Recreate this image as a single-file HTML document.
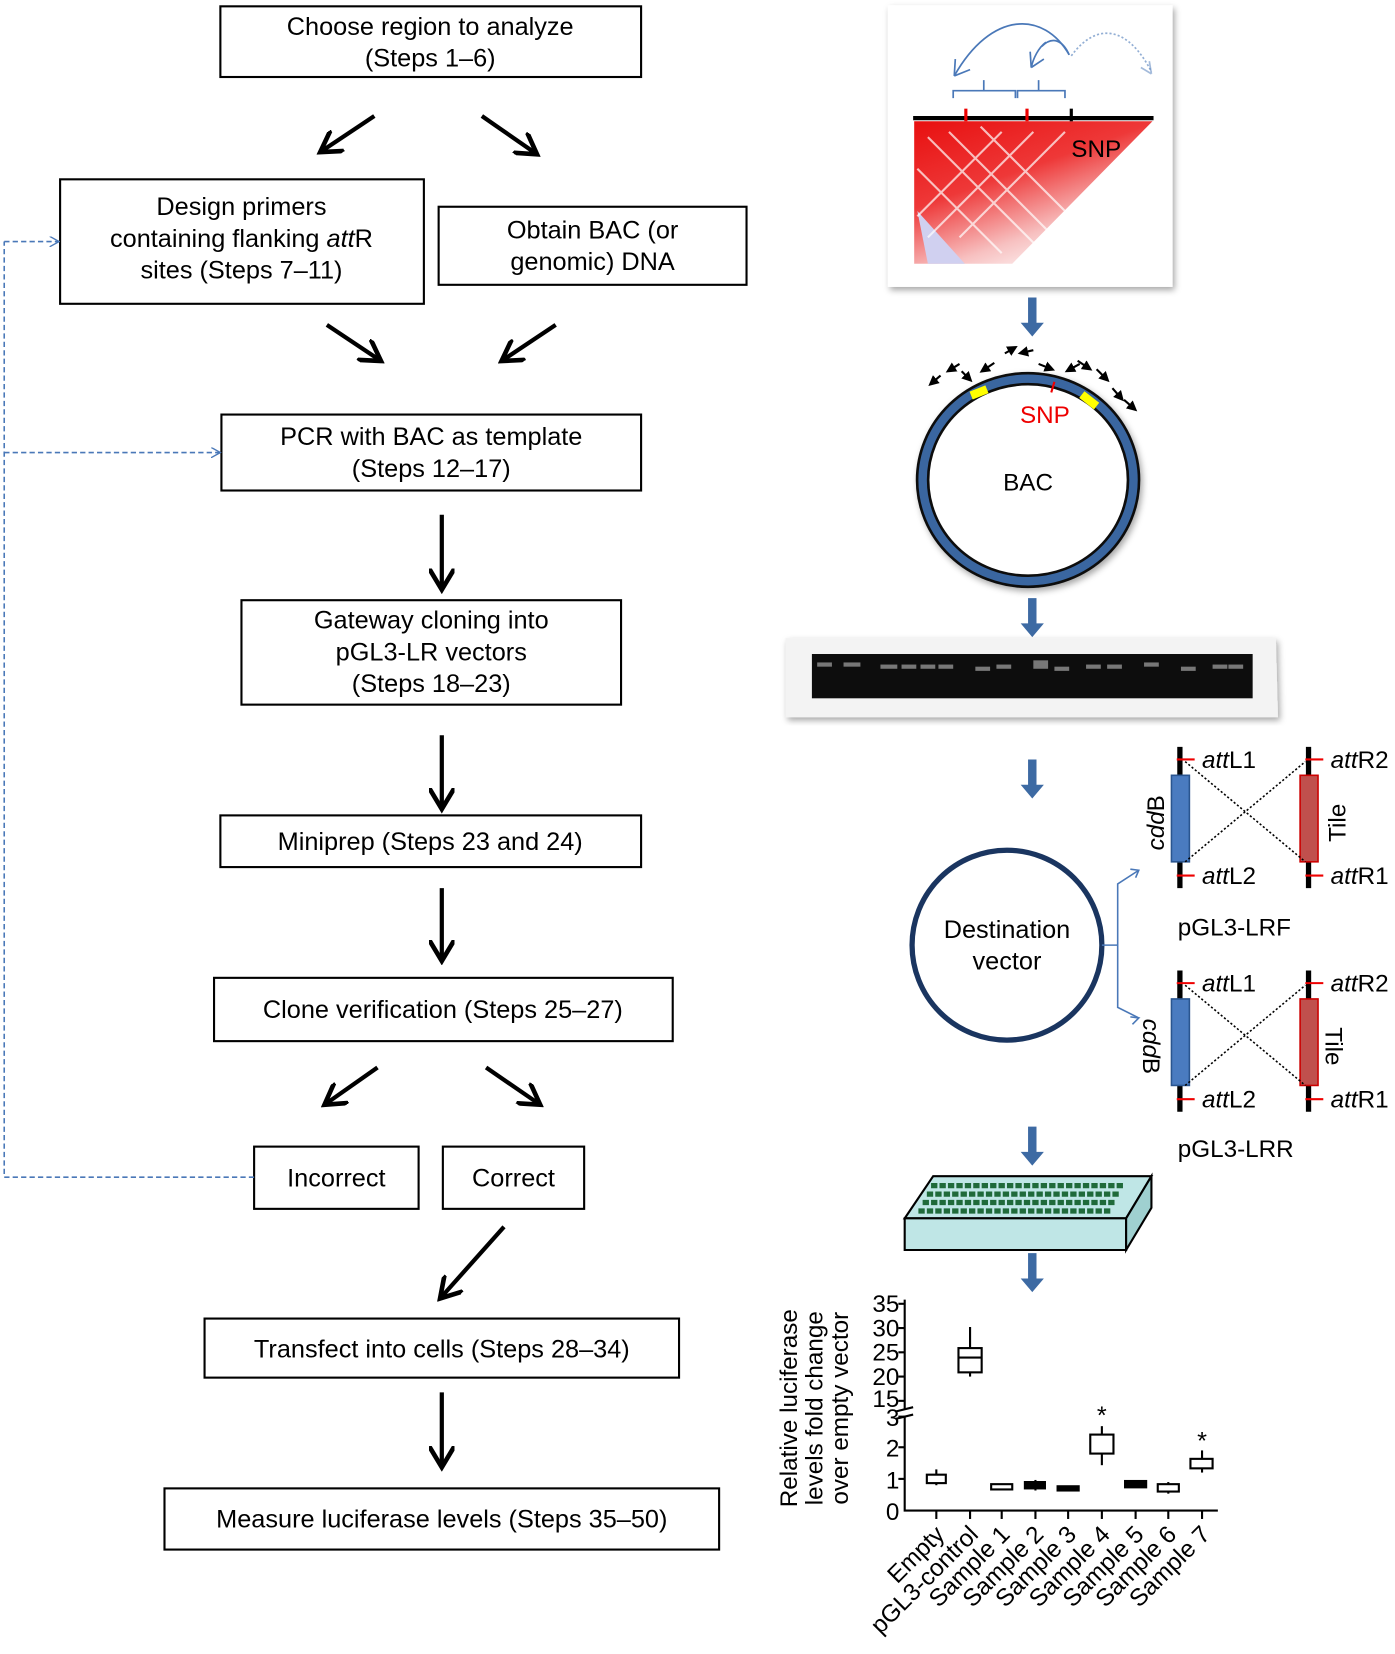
<!DOCTYPE html>
<html><head><meta charset="utf-8"><style>
html,body{margin:0;padding:0;background:#fff}
svg{display:block}
text{font-family:"Liberation Sans",Arial,sans-serif}
</style></head><body>
<svg width="1395" height="1654" viewBox="0 0 1323 1568" preserveAspectRatio="none" xmlns="http://www.w3.org/2000/svg">
<defs>
<marker id="ah" markerWidth="6" markerHeight="6" refX="4" refY="3" orient="auto" markerUnits="strokeWidth"><path d="M0,0 L5,3 L0,6" fill="none" stroke="#000" stroke-width="1.1"/></marker>
<marker id="bh" markerWidth="10" markerHeight="10" refX="9" refY="5" orient="auto" markerUnits="userSpaceOnUse"><path d="M0,0 L9,5 L0,10" fill="none" stroke="#4a78b8" stroke-width="1.3"/></marker>
<marker id="sa" markerWidth="5" markerHeight="5" refX="2" refY="2.5" orient="auto" markerUnits="strokeWidth"><path d="M0,0 L5,2.5 L0,5Z" fill="#000"/></marker>
<linearGradient id="hm" x1="0" y1="0" x2="0.6" y2="1"><stop offset="0" stop-color="#e81010"/><stop offset="0.45" stop-color="#ee3838"/><stop offset="0.8" stop-color="#f7c0c0"/><stop offset="1" stop-color="#fdf2f2"/></linearGradient>
<filter id="sh"><feDropShadow dx="2" dy="3" stdDeviation="3" flood-opacity="0.35"/></filter>
</defs>
<g font-size="24" fill="#000" text-anchor="middle">
<g fill="none" stroke="#000" stroke-width="2">
<rect x="209" y="6" width="399" height="67"/>
<rect x="57" y="170" width="345" height="118"/>
<rect x="416" y="196" width="292" height="74"/>
<rect x="210" y="393" width="398" height="72"/>
<rect x="229" y="569" width="360" height="99"/>
<rect x="209" y="773" width="399" height="49"/>
<rect x="203" y="927" width="435" height="60"/>
<rect x="241" y="1087" width="156" height="59"/>
<rect x="420" y="1087" width="134" height="59"/>
<rect x="194" y="1250" width="450" height="56"/>
<rect x="156" y="1411" width="526" height="58"/>
</g>
<text x="408" y="33">Choose region to analyze</text><text x="408" y="63">(Steps 1–6)</text>
<text x="229" y="204">Design primers</text><text x="229" y="234">containing flanking <tspan font-style="italic">att</tspan>R</text><text x="229" y="264">sites (Steps 7–11)</text>
<text x="562" y="226">Obtain BAC (or</text><text x="562" y="256">genomic) DNA</text>
<text x="409" y="422">PCR with BAC as template</text><text x="409" y="452">(Steps 12–17)</text>
<text x="409" y="596">Gateway cloning into</text><text x="409" y="626">pGL3-LR vectors</text><text x="409" y="656">(Steps 18–23)</text>
<text x="408" y="806">Miniprep (Steps 23 and 24)</text>
<text x="420" y="965">Clone verification (Steps 25–27)</text>
<text x="319" y="1125">Incorrect</text>
<text x="487" y="1125">Correct</text>
<text x="419" y="1287">Transfect into cells (Steps 28–34)</text>
<text x="419" y="1448">Measure luciferase levels (Steps 35–50)</text>
</g>
<g stroke="#000" stroke-width="4" fill="none" marker-end="url(#ah)">
<line x1="355" y1="110" x2="307" y2="142"/>
<line x1="457" y1="110" x2="506" y2="144"/>
<line x1="310" y1="308" x2="358" y2="340"/>
<line x1="527" y1="308" x2="479" y2="340"/>
<line x1="419" y1="488" x2="419" y2="555"/>
<line x1="419" y1="697" x2="419" y2="763"/>
<line x1="419" y1="842" x2="419" y2="907"/>
<line x1="358" y1="1012" x2="311" y2="1045"/>
<line x1="461" y1="1012" x2="509" y2="1045"/>
<line x1="478" y1="1163" x2="420" y2="1228"/>
<line x1="419" y1="1320" x2="419" y2="1387"/>
</g>
<g stroke="#4a78b8" stroke-width="1.5" fill="none" stroke-dasharray="5,3">
<polyline points="241,1116 4,1116 4,229"/>
<line x1="4" y1="229" x2="56" y2="229" marker-end="url(#bh)"/>
<line x1="4" y1="429" x2="209" y2="429" marker-end="url(#bh)"/>
</g>
<!-- heatmap -->
<rect x="842" y="5" width="270" height="267" fill="#fff" filter="url(#sh)"/>
<polygon points="867,115 1093,115 960,250 867,250" fill="url(#hm)"/>
<polygon points="870,200 915,250 880,250" fill="#d0d0f0"/>
<g stroke="#fff" stroke-width="2" opacity="0.7">
<line x1="880" y1="130" x2="990" y2="240"/><line x1="900" y1="125" x2="1000" y2="225"/><line x1="870" y1="160" x2="950" y2="240"/><line x1="930" y1="120" x2="1010" y2="200"/><line x1="980" y1="125" x2="880" y2="225"/><line x1="1010" y1="125" x2="910" y2="225"/><line x1="950" y1="125" x2="870" y2="205"/>
</g>
<line x1="866" y1="112" x2="1094" y2="112" stroke="#000" stroke-width="4"/>
<g stroke="#e00" stroke-width="3"><line x1="916" y1="103" x2="916" y2="115"/><line x1="974" y1="103" x2="974" y2="115"/></g>
<line x1="1016" y1="103" x2="1016" y2="115" stroke="#000" stroke-width="3"/>
<text x="1016" y="149" font-size="23">SNP</text>
<g fill="none" stroke="#4a78b8" stroke-width="1.6">
<path d="M904,93 L904,86 L933,86 L933,76 M933,86 L963,86 L963,93"/>
<path d="M965,93 L965,86 L985,86 L985,76 M985,86 L1010,86 L1010,93"/>
<path d="M1014,52 C990,10 940,10 905,72"/><path d="M905,72 l1,-16 M905,72 l15,-6"/>
<path d="M1014,52 C1008,38 998,34 988,44"/>
<path d="M992,40 C985,45 980,55 978,64"/><path d="M978,64 l-1,-15 M978,64 l12,-8"/>
<path d="M1016,53 C1040,20 1070,25 1092,68" stroke-dasharray="2,2" opacity="0.6"/><path d="M1092,70 l-2,-12 M1092,70 l-10,-6" opacity="0.5"/>
</g>
<!-- blue down arrows -->
<g fill="#3d6aa3">
<path d="M975,282 h8 v24 h7 l-11,13 l-11,-13 h7z"/>
<path d="M975,567 h8 v24 h7 l-11,13 l-11,-13 h7z"/>
<path d="M975,720 h8 v24 h7 l-11,13 l-11,-13 h7z"/>
<path d="M975,1068 h8 v24 h7 l-11,13 l-11,-13 h7z"/>
<path d="M975,1188 h8 v24 h7 l-11,13 l-11,-13 h7z"/>
</g>
<!-- BAC -->
<ellipse cx="975" cy="455" rx="100" ry="96" fill="#fff" stroke="#111" stroke-width="13" filter="url(#sh)"/>
<ellipse cx="975" cy="455" rx="100" ry="96" fill="none" stroke="#3a66a0" stroke-width="8"/>
<line x1="921" y1="375" x2="936" y2="369" stroke="#ff0" stroke-width="8"/>
<line x1="1026" y1="374" x2="1040" y2="385" stroke="#ff0" stroke-width="8"/>
<line x1="1000" y1="362" x2="997" y2="372" stroke="#e00" stroke-width="2"/>
<text x="991" y="401" font-size="23" fill="#e00" text-anchor="middle">SNP</text>
<text x="975" y="465" font-size="23" text-anchor="middle">BAC</text>
<g stroke="#000" stroke-width="2" marker-end="url(#sa)">
<line x1="892" y1="356" x2="885" y2="362"/><line x1="910" y1="345" x2="902" y2="350"/><line x1="912" y1="352" x2="918" y2="358"/>
<line x1="943" y1="344" x2="934" y2="350"/><line x1="953" y1="335" x2="960" y2="331"/><line x1="980" y1="332" x2="971" y2="334"/>
<line x1="985" y1="345" x2="995" y2="349"/><line x1="1024" y1="345" x2="1015" y2="350"/><line x1="1022" y1="342" x2="1031" y2="348"/>
<line x1="1040" y1="350" x2="1048" y2="358"/><line x1="1055" y1="368" x2="1062" y2="376"/><line x1="1066" y1="379" x2="1074" y2="386"/>
</g>
<!-- gel -->
<polygon points="745,605 1210,605 1212,680 745,680" fill="#f3f3f3" filter="url(#sh)"/>
<rect x="770" y="620" width="418" height="42" fill="#0d0d0d"/>
<g fill="#777"><rect x="775" y="628" width="14" height="4"/><rect x="800" y="628" width="16" height="4"/><rect x="835" y="630" width="16" height="4"/><rect x="855" y="630" width="14" height="4"/><rect x="873" y="630" width="14" height="4"/><rect x="890" y="630" width="14" height="4"/><rect x="925" y="632" width="14" height="4"/><rect x="945" y="630" width="14" height="4"/><rect x="980" y="626" width="14" height="8"/><rect x="1000" y="632" width="14" height="4"/><rect x="1030" y="630" width="14" height="4"/><rect x="1050" y="630" width="14" height="4"/><rect x="1085" y="628" width="14" height="4"/><rect x="1120" y="632" width="14" height="4"/><rect x="1150" y="630" width="14" height="4"/><rect x="1165" y="630" width="14" height="4"/></g>
<!-- destination vector -->
<circle cx="955" cy="896" r="90" fill="#fff" stroke="#1a3560" stroke-width="5"/>
<text x="955" y="889" font-size="24" text-anchor="middle">Destination</text>
<text x="955" y="919" font-size="24" text-anchor="middle">vector</text>
<g fill="none" stroke="#4a78b8" stroke-width="1.5">
<line x1="1045" y1="896" x2="1060" y2="896"/>
<polyline points="1080,825 1060,838 1060,955 1080,965"/>
<path d="M1072,824 L1080,825 L1077,832 M1072,964 L1080,965 L1074,971"/>
</g>
<g font-size="23">
<g id="cas">
<line x1="1119" y1="708" x2="1119" y2="842" stroke="#000" stroke-width="5"/>
<line x1="1241" y1="708" x2="1241" y2="842" stroke="#000" stroke-width="5"/>
<rect x="1111" y="735" width="17" height="82" fill="#4a7bc0" stroke="#2a5590" stroke-width="1.5"/>
<rect x="1233" y="735" width="17" height="82" fill="#c0504d" stroke="#c00" stroke-width="1.5"/>
<g stroke="#e00" stroke-width="2"><line x1="1116" y1="720" x2="1133" y2="720"/><line x1="1116" y1="830" x2="1133" y2="830"/><line x1="1238" y1="720" x2="1255" y2="720"/><line x1="1238" y1="830" x2="1255" y2="830"/></g>
<g stroke="#000" stroke-width="1.5" stroke-dasharray="2,2"><line x1="1124" y1="722" x2="1238" y2="817"/><line x1="1124" y1="817" x2="1238" y2="722"/></g>
<text x="1140" y="728"><tspan font-style="italic">att</tspan>L1</text>
<text x="1140" y="838"><tspan font-style="italic">att</tspan>L2</text>
<text x="1262" y="728"><tspan font-style="italic">att</tspan>R2</text>
<text x="1262" y="838"><tspan font-style="italic">att</tspan>R1</text>
</g>
<use href="#cas" y="212"/>
<text transform="translate(1104,780) rotate(-90)" text-anchor="middle"><tspan font-style="italic">cdd</tspan>B</text>
<text transform="translate(1276,780) rotate(-90)" text-anchor="middle">Tile</text>
<text transform="translate(1084,992) rotate(90)" text-anchor="middle"><tspan font-style="italic">cdd</tspan>B</text>
<text transform="translate(1257,992) rotate(90)" text-anchor="middle">Tile</text>
<text x="1117" y="887">pGL3-LRF</text>
<text x="1117" y="1097">pGL3-LRR</text>
</g>
<!-- plate -->
<polygon points="858,1155 885,1115 1092,1115 1068,1155" fill="#bfe6e6" stroke="#000" stroke-width="2"/>
<polygon points="858,1155 1068,1155 1068,1185 858,1185" fill="#bfe6e6" stroke="#000" stroke-width="2"/>
<polygon points="1068,1155 1092,1115 1092,1145 1068,1185" fill="#9fd0d0" stroke="#000" stroke-width="2"/>
<g fill="none" stroke="#1f6a3a" stroke-width="5" stroke-dasharray="6,2"><line x1="883" y1="1124" x2="1066" y2="1124"/><line x1="879" y1="1132" x2="1062" y2="1132"/><line x1="875" y1="1140" x2="1058" y2="1140"/><line x1="871" y1="1148" x2="1054" y2="1148"/></g>
<!-- chart -->
<g font-size="23" text-anchor="end">
<text x="853" y="1244">35</text><text x="853" y="1267">30</text><text x="853" y="1290">25</text><text x="853" y="1313">20</text><text x="853" y="1334">15</text>
<text x="853" y="1352">3</text><text x="853" y="1381">2</text><text x="853" y="1411">1</text><text x="853" y="1441">0</text>
</g>
<g stroke="#000" stroke-width="2" fill="none">
<polyline points="858,1232 858,1336"/><polyline points="858,1342 858,1432 1155,1432"/>
<line x1="850" y1="1338" x2="866" y2="1334"/><line x1="850" y1="1345" x2="866" y2="1341"/>
<line x1="852" y1="1236" x2="858" y2="1236"/><line x1="852" y1="1259" x2="858" y2="1259"/><line x1="852" y1="1282" x2="858" y2="1282"/><line x1="852" y1="1305" x2="858" y2="1305"/><line x1="852" y1="1328" x2="858" y2="1328"/>
<line x1="852" y1="1343" x2="858" y2="1343"/><line x1="852" y1="1372" x2="858" y2="1372"/><line x1="852" y1="1402" x2="858" y2="1402"/>
<g><line x1="888" y1="1432" x2="888" y2="1440"/><line x1="920" y1="1432" x2="920" y2="1440"/><line x1="950" y1="1432" x2="950" y2="1440"/><line x1="982" y1="1432" x2="982" y2="1440"/><line x1="1013" y1="1432" x2="1013" y2="1440"/><line x1="1045" y1="1432" x2="1045" y2="1440"/><line x1="1077" y1="1432" x2="1077" y2="1440"/><line x1="1108" y1="1432" x2="1108" y2="1440"/><line x1="1140" y1="1432" x2="1140" y2="1440"/></g>
<line x1="888" y1="1393" x2="888" y2="1408"/><rect x="879" y="1398" width="18" height="8" fill="#fff"/>
<line x1="920" y1="1258" x2="920" y2="1305"/><rect x="909" y="1278" width="22" height="23" fill="#fff"/><line x1="909" y1="1287" x2="931" y2="1287"/>
<rect x="940" y="1407" width="20" height="5" fill="#fff"/>
<line x1="982" y1="1403" x2="982" y2="1413"/><rect x="972" y="1405" width="19" height="6" fill="#000"/>
<rect x="1003" y="1409" width="20" height="4" fill="#000"/>
<line x1="1045" y1="1352" x2="1045" y2="1389"/><rect x="1034" y="1360" width="22" height="18" fill="#fff"/>
<rect x="1067" y="1404" width="20" height="6" fill="#000"/>
<line x1="1108" y1="1405" x2="1108" y2="1416"/><rect x="1098" y="1407" width="20" height="7" fill="#fff"/>
<line x1="1140" y1="1375" x2="1140" y2="1396"/><rect x="1129" y="1383" width="21" height="9" fill="#fff"/>
</g>
<text x="1045" y="1350" font-size="24" text-anchor="middle">*</text>
<text x="1140" y="1374" font-size="24" text-anchor="middle">*</text>
<g font-size="23" text-anchor="middle">
<text transform="translate(756,1335) rotate(-90)">Relative luciferase</text>
<text transform="translate(780,1335) rotate(-90)">levels fold change</text>
<text transform="translate(804,1335) rotate(-90)">over empty vector</text>
</g>
<g font-size="23" text-anchor="end">
<text transform="translate(897,1456) rotate(-45)">Empty</text>
<text transform="translate(929,1456) rotate(-45)">pGL3-control</text>
<text transform="translate(959,1456) rotate(-45)">Sample 1</text>
<text transform="translate(991,1456) rotate(-45)">Sample 2</text>
<text transform="translate(1022,1456) rotate(-45)">Sample 3</text>
<text transform="translate(1054,1456) rotate(-45)">Sample 4</text>
<text transform="translate(1086,1456) rotate(-45)">Sample 5</text>
<text transform="translate(1117,1456) rotate(-45)">Sample 6</text>
<text transform="translate(1149,1456) rotate(-45)">Sample 7</text>
</g>
</svg>
</body></html>
